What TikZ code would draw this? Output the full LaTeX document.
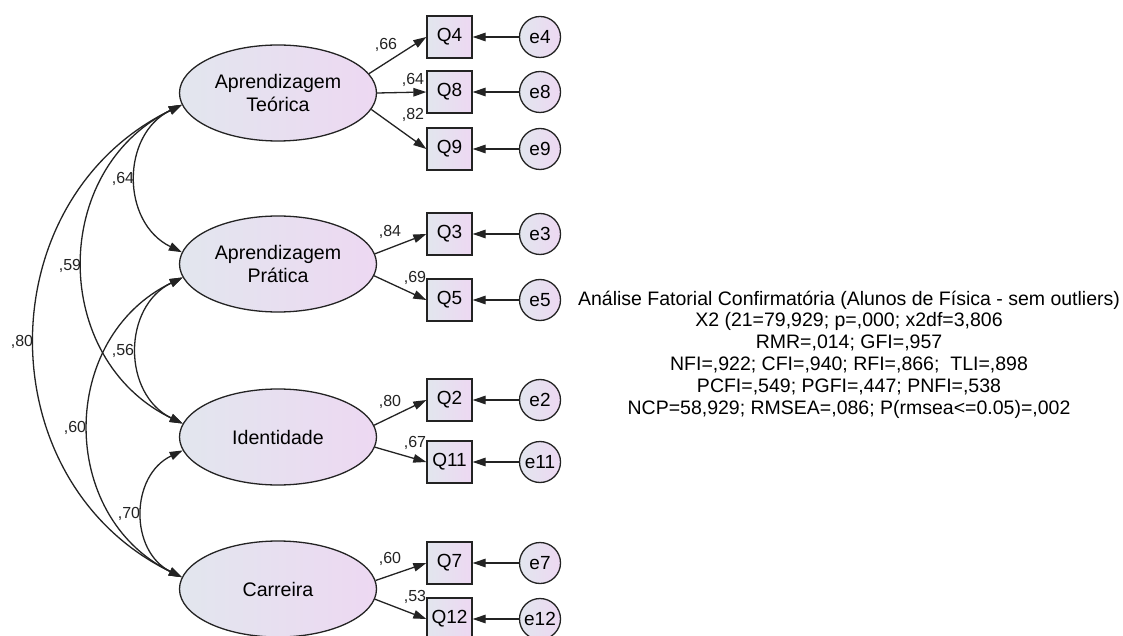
\documentclass[tikz,border=0pt]{standalone}
\usepackage{fontspec}
\setmainfont{Liberation Sans}
\usetikzlibrary{arrows.meta,shapes.geometric}
\definecolor{gL}{RGB}{226,230,238}
\definecolor{gR}{RGB}{237,216,242}
\definecolor{ln}{RGB}{35,35,35}
\tikzset{
 latent/.style={ellipse, draw=ln, line width=1.3pt, left color=gL, right color=gR, minimum width=197pt, minimum height=96pt, inner sep=0pt, align=center, font=\fontsize{19.6}{23}\selectfont},
 obs/.style={rectangle, draw=ln, line width=1.3pt, left color=gL, right color=gR, minimum width=45pt, minimum height=42pt, inner sep=0pt, font=\fontsize{19}{22}\selectfont},
 err/.style={circle, draw=ln, line width=1.3pt, left color=gL, right color=gR, minimum size=41pt, inner sep=0pt, font=\fontsize{19}{22}\selectfont},
 load/.style={draw=ln, line width=1.3pt, -{Triangle[length=13pt,width=8.5pt]}},
 cov/.style={draw=ln, line width=1.3pt, {Triangle[length=13pt,width=8.5pt]}-{Triangle[length=13pt,width=8.5pt]}, bend right=64, looseness=1.18},
 coef/.style={font=\fontsize{16}{18}\selectfont, inner sep=0pt, text=ln},
 fit/.style={align=center, font=\fontsize{19.5}{21.8}\selectfont, inner sep=0pt}
}
\begin{document}
\begin{tikzpicture}[x=1pt,y=1pt]
\useasboundingbox (0,0) rectangle (1123,635);
\fill[white] (0,0) rectangle (1123,635);

% latent variables
\node[latent] (AT) at (278,542) {Aprendizagem\\Teórica};
\node[latent] (AP) at (278,371) {Aprendizagem\\Prática};
\node[latent] (ID) at (278,198) {Identidade};
\node[latent] (CA) at (278,46) {Carreira};

% observed
\node[obs] (Q4) at (449.5,598) {Q4};
\node[obs] (Q8) at (449.5,543) {Q8};
\node[obs] (Q9) at (449.5,486) {Q9};
\node[obs] (Q3) at (449.5,401) {Q3};
\node[obs] (Q5) at (449.5,335) {Q5};
\node[obs] (Q2) at (449.5,235) {Q2};
\node[obs] (Q11) at (449.5,173) {Q11};
\node[obs] (Q7) at (449.5,72) {Q7};
\node[obs] (Q12) at (449.5,16) {Q12};

% errors
\node[err] (e4) at (540,598) {e4};
\node[err] (e8) at (540,543) {e8};
\node[err] (e9) at (540,486) {e9};
\node[err] (e3) at (540,401) {e3};
\node[err] (e5) at (540,335) {e5};
\node[err] (e2) at (540,235) {e2};
\node[err] (e11) at (540,173) {e11};
\node[err] (e7) at (540,72) {e7};
\node[err] (e12) at (540,16) {e12};

% loadings
\draw[load] (AT.12) -- (Q4.west);
\draw[load] (AT.0) -- (Q8.west);
\draw[load] (AT.-10) -- (Q9.west);
\draw[load] (AP.6) -- (Q3.west);
\draw[load] (AP.-7) -- (Q5.west);
\draw[load] (ID.7) -- (Q2.west);
\draw[load] (ID.-6) -- (Q11.west);
\draw[load] (CA.5) -- (Q7.west);
\draw[load] (CA.-6) -- (Q12.west);

% error paths
\foreach \e/\q in {e4/Q4,e8/Q8,e9/Q9,e3/Q3,e5/Q5,e2/Q2,e11/Q11,e7/Q7,e12/Q12}
  \draw[load] (\e) -- (\q);

% covariances
\draw[cov] (AT.187) to (AP.173);
\draw[cov] (AT.187) to (ID.172);
\draw[cov] (AT.187) to (CA.173);
\draw[cov] (AP.188) to (ID.172);
\draw[cov] (AP.188) to (CA.173);
\draw[cov] (ID.188) to (CA.173);

% loading coefficients
\node[coef] (c4) at (386,590) {,66};
\node[coef] (c8) at (413,555) {,64};
\node[coef] (c9) at (413,520) {,82};
\node[coef] (c3) at (390,403) {,84};
\node[coef] (c5) at (415,357) {,69};
\node[coef] (c2) at (390,233) {,80};
\node[coef] (c11) at (415,192) {,67};
\node[coef] (c7) at (390,76) {,60};
\node[coef] (c12) at (415,38) {,53};

% correlation coefficients
\node[coef] (r1) at (123,456) {,64};
\node[coef] (r2) at (70,369) {,59};
\node[coef] (r3) at (22,293) {,80};
\node[coef] (r4) at (123,284) {,56};
\node[coef] (r5) at (75,207) {,60};
\node[coef] (r6) at (129,121) {,70};

% fit indices
\node[fit] (fitbox) at (849,280.5) {Análise Fatorial Confirmatória (Alunos de Física - sem outliers)\\
X2 (21=79,929; p=,000; x2df=3,806\hspace*{54pt}\\
RMR=,014; GFI=,957\hspace*{66pt}\\
NFI=,922; CFI=,940; RFI=,866;\ \ TLI=,898\hspace*{48pt}\\
PCFI=,549; PGFI=,447; PNFI=,538\hspace*{48pt}\\
NCP=58,929; RMSEA=,086; P(rmsea<=0.05)=,002};
\end{tikzpicture}
\end{document}
